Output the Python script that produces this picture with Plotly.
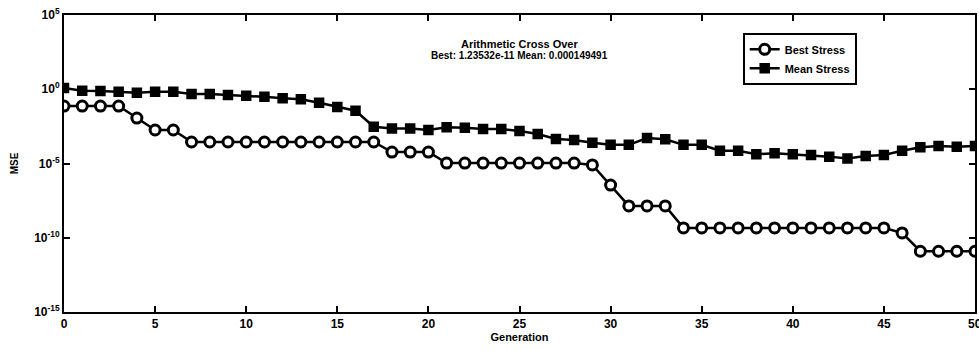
import plotly.graph_objects as go

generation = list(range(51))

best_stress = [
    7.4e-2, 7.4e-2, 7.4e-2, 7.4e-2, 1.15e-2, 1.8e-3, 1.8e-3, 2.8e-4, 2.8e-4, 2.8e-4,
    2.8e-4, 2.8e-4, 2.8e-4, 2.8e-4, 2.8e-4, 2.8e-4, 2.8e-4, 2.8e-4, 5.9e-5, 5.9e-5,
    5.9e-5, 1.07e-5, 1.07e-5, 1.07e-5, 1.07e-5, 1.07e-5, 1.07e-5, 1.07e-5, 1.07e-5, 8.0e-6,
    3.5e-7, 1.4e-8, 1.4e-8, 1.4e-8, 4.6e-10, 4.6e-10, 4.6e-10, 4.6e-10, 4.6e-10, 4.6e-10,
    4.6e-10, 4.6e-10, 4.6e-10, 4.6e-10, 4.6e-10, 4.6e-10, 2.1e-10, 1.23532e-11, 1.23532e-11, 1.23532e-11,
    1.23532e-11,
]

mean_stress = [
    1.21, 0.80, 0.76, 0.68, 0.59, 0.68, 0.68, 0.48, 0.48, 0.41,
    0.37, 0.31, 0.25, 0.21, 0.124, 0.064, 0.036, 3.0e-3, 2.3e-3, 2.3e-3,
    1.8e-3, 2.75e-3, 2.6e-3, 2.1e-3, 2.1e-3, 1.55e-3, 9.8e-4, 4.5e-4, 3.8e-4, 2.5e-4,
    1.8e-4, 1.8e-4, 5.2e-4, 4.3e-4, 1.8e-4, 1.8e-4, 7.2e-5, 7.2e-5, 4.2e-5, 4.9e-5,
    4.2e-5, 3.7e-5, 2.9e-5, 2.2e-5, 3.2e-5, 3.7e-5, 7.2e-5, 1.23e-4, 1.5e-4, 1.35e-4,
    1.49491e-4,
]

x_ticks = [0, 5, 10, 15, 20, 25, 30, 35, 40, 45, 50]
y_tick_vals = [1e5, 1e0, 1e-5, 1e-10, 1e-15]
y_tick_text = ["10<sup>5</sup>", "10<sup>0</sup>", "10<sup>-5</sup>",
               "10<sup>-10</sup>", "10<sup>-15</sup>"]

title_main = "Arithmetic Cross Over"
title_sub = "Best: 1.23532e-11 Mean: 0.000149491"

FONT = "Liberation Sans, Arial, sans-serif"

fig = go.Figure()

fig.add_trace(go.Scatter(
    x=generation, y=best_stress, name="<b>Best Stress</b>",
    mode="lines+markers",
    line=dict(color="black", width=2.5),
    marker=dict(symbol="circle", size=10, color="white",
                line=dict(color="black", width=3)),
))

fig.add_trace(go.Scatter(
    x=generation, y=mean_stress, name="<b>Mean Stress</b>",
    mode="lines+markers",
    line=dict(color="black", width=2.5),
    marker=dict(symbol="square", size=9, color="black",
                line=dict(color="black", width=1.5)),
))

fig.add_annotation(
    x=0.5, y=0.93, xref="paper", yref="paper",
    text="<b>" + title_main + "</b>", showarrow=False,
    font=dict(family=FONT, size=11, color="black"),
)
fig.add_annotation(
    x=0.5, y=0.888, xref="paper", yref="paper",
    text="<b>" + title_sub + "</b>", showarrow=False,
    font=dict(family=FONT, size=10, color="black"),
)

# last x tick label sits on the figure edge and is cut off there
fig.add_annotation(
    x=50, y=0, xref="x", yref="paper", yanchor="top", yshift=-3,
    text="<b>50</b>", showarrow=False,
    font=dict(family=FONT, size=12, color="black"),
)

fig.update_layout(
    width=979, height=350,
    margin=dict(l=64, r=2, t=15, b=38),
    paper_bgcolor="white", plot_bgcolor="white",
    font=dict(family=FONT, color="black", size=12),
    showlegend=True,
    legend=dict(
        x=0.745, y=0.94, xanchor="left", yanchor="top",
        bgcolor="white", bordercolor="black", borderwidth=2,
        font=dict(family=FONT, size=11, color="black"),
        tracegroupgap=0, itemwidth=30,
    ),
)

fig.update_xaxes(
    range=[0, 50], tickvals=x_ticks[:-1],
    ticktext=[f"<b>{t}</b>" for t in x_ticks[:-1]],
    showline=True, linecolor="black", linewidth=2, mirror="ticks",
    ticks="inside", ticklen=6, tickwidth=2, tickcolor="black",
    showgrid=False, zeroline=False,
    title=dict(text="<b>Generation</b>", standoff=2,
               font=dict(family=FONT, size=11, color="black")),
    tickfont=dict(family=FONT, size=12, color="black"),
)

fig.update_yaxes(
    type="log", range=[-15, 5],
    tickvals=y_tick_vals, ticktext=["<b>" + t + "</b>" for t in y_tick_text],
    showline=True, linecolor="black", linewidth=2, mirror="ticks",
    ticks="inside", ticklen=6, tickwidth=2, tickcolor="black",
    showgrid=False, zeroline=False,
    title=dict(text="<b>MSE</b>", standoff=14,
               font=dict(family=FONT, size=10, color="black")),
    tickfont=dict(family=FONT, size=12, color="black"),
)

fig.write_html("out.html")
